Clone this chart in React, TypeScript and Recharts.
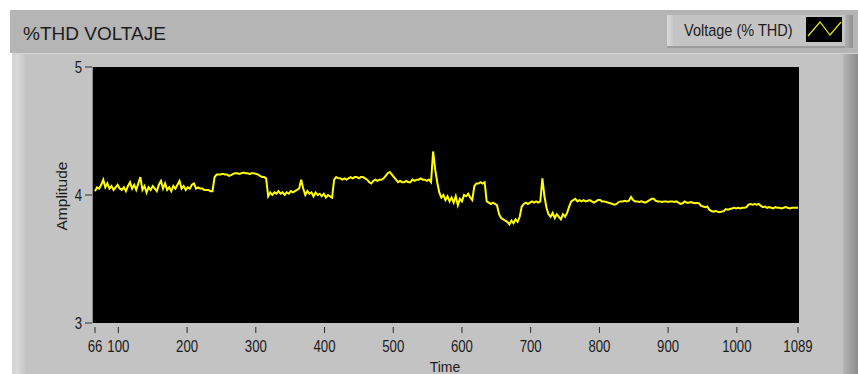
import React from 'react';
import { LineChart, Line, XAxis, YAxis } from 'recharts';

const SAMPLE_START = 66;
const SAMPLE_STEP = 3;

// t 66 .. 243
const thd066 = [
  4.03, 4.06, 4.05, 4.08, 4.12, 4.06, 4.09, 4.05, 4.07, 4.04, 4.06, 4.08, 4.05, 4.04, 4.06, 4.03, 4.07, 4.10, 4.05, 4.08,
  4.04, 4.09, 4.14, 4.04, 4.07, 4.02, 4.06, 4.04, 4.07, 4.05, 4.03, 4.08, 4.11, 4.05, 4.09, 4.04, 4.06, 4.03, 4.07, 4.05,
  4.08, 4.11, 4.05, 4.07, 4.04, 4.06, 4.05, 4.08, 4.09, 4.05, 4.06, 4.05, 4.05, 4.04, 4.04, 4.04, 4.03, 4.03, 4.14, 4.16,
];
// t 246 .. 423
const thd246 = [
  4.16, 4.16, 4.165, 4.16, 4.16, 4.15, 4.155, 4.165, 4.17, 4.17, 4.165, 4.17, 4.175, 4.17, 4.17, 4.165, 4.17, 4.17, 4.165, 4.16,
  4.15, 4.14, 4.14, 4.13, 3.99, 4.02, 4.00, 4.02, 4.01, 4.03, 4.01, 4.02, 4.00, 4.02, 4.01, 4.03, 4.02, 4.03, 4.04, 4.05,
  4.12, 4.05, 4.00, 4.03, 4.01, 4.02, 3.99, 4.02, 4.00, 4.01, 3.99, 4.01, 3.98, 4.00, 3.99, 3.98, 4.12, 4.14, 4.13, 4.13,
];
// t 426 .. 603
const thd426 = [
  4.12, 4.13, 4.12, 4.13, 4.14, 4.13, 4.14, 4.14, 4.13, 4.14, 4.14, 4.13, 4.12, 4.10, 4.09, 4.11, 4.12, 4.11, 4.12, 4.12,
  4.13, 4.15, 4.17, 4.18, 4.16, 4.14, 4.12, 4.10, 4.11, 4.10, 4.10, 4.11, 4.10, 4.10, 4.12, 4.11, 4.12, 4.12, 4.13, 4.12,
  4.12, 4.11, 4.12, 4.10, 4.34, 4.20, 4.10, 4.02, 3.98, 4.00, 3.96, 3.99, 3.95, 3.98, 3.94, 3.99, 3.92, 3.97, 3.95, 4.00,
];
// t 606 .. 783
const thd606 = [
  3.99, 4.01, 3.98, 3.96, 4.07, 4.09, 4.09, 4.10, 4.09, 4.10, 3.95, 3.94, 3.93, 3.94, 3.93, 3.92, 3.85, 3.82, 3.81, 3.80,
  3.79, 3.77, 3.80, 3.78, 3.81, 3.79, 3.83, 3.91, 3.93, 3.94, 3.93, 3.94, 3.95, 3.94, 3.95, 3.94, 3.95, 4.13, 3.99, 3.90,
  3.85, 3.83, 3.86, 3.82, 3.85, 3.83, 3.81, 3.85, 3.83, 3.86, 3.91, 3.95, 3.96, 3.97, 3.95, 3.96, 3.95, 3.96, 3.95, 3.955,
];
// t 786 .. 963
const thd786 = [
  3.96, 3.95, 3.94, 3.95, 3.96, 3.96, 3.95, 3.95, 3.945, 3.94, 3.935, 3.93, 3.925, 3.93, 3.945, 3.95, 3.95, 3.955, 3.95, 3.955,
  3.985, 3.96, 3.95, 3.95, 3.945, 3.95, 3.945, 3.94, 3.95, 3.96, 3.97, 3.97, 3.955, 3.95, 3.95, 3.945, 3.95, 3.95, 3.945, 3.95,
  3.95, 3.945, 3.95, 3.94, 3.93, 3.935, 3.95, 3.94, 3.94, 3.945, 3.94, 3.935, 3.94, 3.935, 3.915, 3.91, 3.905, 3.91, 3.885, 3.875,
];
// t 966 .. 1089
const thd966 = [
  3.87, 3.875, 3.87, 3.865, 3.87, 3.875, 3.89, 3.885, 3.89, 3.895, 3.9, 3.895, 3.9, 3.895, 3.9, 3.9, 3.905, 3.925, 3.93, 3.925,
  3.93, 3.925, 3.93, 3.915, 3.905, 3.91, 3.9, 3.905, 3.9, 3.895, 3.905, 3.9, 3.9, 3.895, 3.9, 3.905, 3.9, 3.895, 3.9, 3.9,
  3.9, 3.9,
];

const X_TICKS = [66, 100, 200, 300, 400, 500, 600, 700, 800, 900, 1000, 1089];
const Y_TICKS = [3, 4, 5];
const TITLE = '%THD VOLTAJE';
const SERIES_NAME = 'Voltage (% THD)';
const X_LABEL = 'Time';
const Y_LABEL = 'Amplitude';

const thdValues = [...thd066, ...thd246, ...thd426, ...thd606, ...thd786, ...thd966];
const data = thdValues.map((v, i) => ({ time: SAMPLE_START + SAMPLE_STEP * i, thd: v }));

const SANS = "'Liberation Sans', Arial, sans-serif";
const TXT = '#1c1c1c';
const NARROW_SCALE = 0.8;

function XTick(props: any) {
  const { x, y, payload } = props;
  return (
    <g>
      <line x1={x} x2={x} y1={y + 4} y2={y + 10} stroke="#2a2a2a" strokeWidth={1} />
      <text
        transform={`translate(${x},${y + 29}) scale(${NARROW_SCALE},1)`}
        textAnchor="middle"
        fontFamily={SANS}
        fontSize={16.5}
        fill={TXT}
      >
        {payload.value}
      </text>
    </g>
  );
}

function YTick(props: any) {
  const { x, y, payload } = props;
  return (
    <g>
      <line x1={x - 10} x2={x - 3} y1={y} y2={y} stroke="#2a2a2a" strokeWidth={1} />
      <text
        transform={`translate(${x - 13},${y + 6}) scale(${NARROW_SCALE},1)`}
        textAnchor="end"
        fontFamily={SANS}
        fontSize={16.5}
        fill={TXT}
      >
        {payload.value}
      </text>
    </g>
  );
}

const abs = (s: React.CSSProperties): React.CSSProperties => ({ position: 'absolute', ...s });

export default function App() {
  return (
    <div style={abs({ left: 0, top: 0, width: 858, height: 374, background: '#ffffff', overflow: 'hidden' })}>
      {/* header band */}
      <div style={abs({ left: 10, top: 10, width: 848, height: 43, background: '#b5b5b5' })} />
      {/* legend box */}
      <div style={abs({ left: 667, top: 15, width: 186, height: 31, background: '#c4c4c4', borderBottom: '2px solid #9c9c9c' })} />
      <div style={abs({ left: 667, top: 15, width: 6, height: 31, background: 'linear-gradient(90deg,#dadada,#c8c8c8)' })} />
      <div style={abs({ left: 845, top: 15, width: 8, height: 33, background: 'linear-gradient(90deg,#b0b0b0,#909090)' })} />
      <div style={abs({ left: 806, top: 17, width: 36, height: 25, background: '#000' })} />
      {/* main panel */}
      <div style={abs({ left: 12, top: 53, width: 846, height: 321, background: '#c3c3c3', borderTop: '1px solid #d4d4d4' })} />
      <div style={abs({ left: 12, top: 54, width: 13, height: 320, background: 'linear-gradient(90deg,#d0d0d0,#dadada 40%,#c6c6c6)' })} />
      <div style={abs({ left: 843, top: 54, width: 15, height: 320, background: 'linear-gradient(90deg,#b6b6b6,#8c8c8c)' })} />
      {/* plot area */}
      <div style={abs({ left: 92, top: 67, width: 707, height: 256, background: '#000', borderLeft: '1px solid #8a8a8a', boxSizing: 'border-box' })} />

      <div style={abs({ left: 0, top: 0 })}>
        <LineChart width={858} height={374} data={data} margin={{ top: 67, right: 60, bottom: 11, left: 35 }}>
          <XAxis
            dataKey="time"
            type="number"
            domain={[66, 1089]}
            ticks={X_TICKS}
            interval={0}
            height={40}
            axisLine={false}
            tickLine={false}
            tickSize={0}
            tickMargin={0}
            tick={<XTick />}
          />
          <YAxis
            type="number"
            domain={[3, 5]}
            ticks={Y_TICKS}
            interval={0}
            width={60}
            axisLine={false}
            tickLine={false}
            tickSize={0}
            tickMargin={0}
            tick={<YTick />}
          />
          <Line
            type="linear"
            dataKey="thd"
            name={SERIES_NAME}
            stroke="#ffff00"
            strokeWidth={2}
            dot={false}
            isAnimationActive={false}
          />
        </LineChart>
      </div>

      <svg width={858} height={374} style={abs({ left: 0, top: 0, pointerEvents: 'none' })}>
        <text x={23} y={40} fontFamily={SANS} fontSize={19} fill={TXT}>{TITLE}</text>
        <text transform="translate(684,36) scale(0.88,1)" fontFamily={SANS} fontSize={16.5} fill={TXT}>{SERIES_NAME}</text>
        <polyline points="808,36 820,22 830,35 841,22" fill="none" stroke="#e8e800" strokeWidth={1.2} />
        <text x={445} y={372} textAnchor="middle" fontFamily={SANS} fontSize={14} fill={TXT}>{X_LABEL}</text>
        <text transform="translate(67,196) rotate(-90)" textAnchor="middle" fontFamily={SANS} fontSize={15.5} fill={TXT}>{Y_LABEL}</text>
      </svg>
    </div>
  );
}
